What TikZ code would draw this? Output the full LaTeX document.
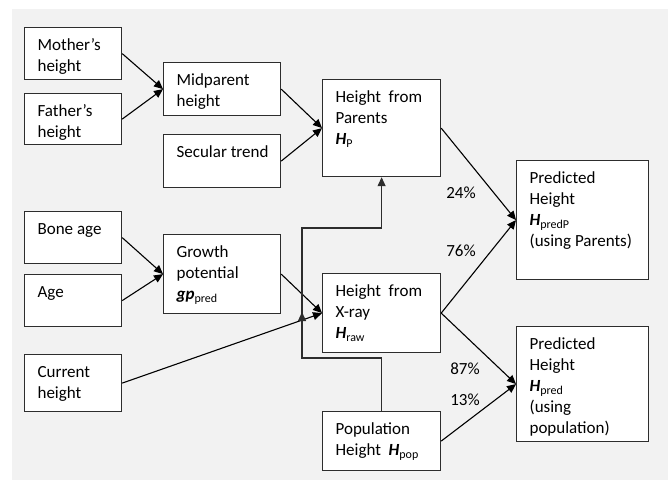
\documentclass[tikz,border=0pt]{standalone}
\usepackage{fontspec}
\setmainfont{Carlito}
\usetikzlibrary{arrows.meta}
\definecolor{paper}{RGB}{242,242,242}
\definecolor{edge}{RGB}{45,45,45}
\newcommand{\bH}{\textbf{\textit{H}}}
\newcommand{\idx}[1]{\raisebox{-3pt}{\fontsize{12}{12}\selectfont #1}}
\newcommand{\boxtext}[3]{\parbox[t][\dimexpr#2pt-16pt\relax][t]{\dimexpr#1pt-26pt\relax}{\raggedright\strut #3}}
\tikzset{
  >={Triangle[length=9pt,width=8pt]},
  box/.style={draw=edge,fill=white,line width=1.2pt,anchor=north west,
    inner xsep=13pt,inner ysep=8pt,font=\fontsize{17}{21}\selectfont},
  flow/.style={->,line width=1.1pt,draw=black},
  tag/.style={font=\fontsize{17}{21}\selectfont,inner sep=0pt},
}

\begin{document}
\begin{tikzpicture}[x=1pt,y=-1pt]
  \useasboundingbox (0,0) rectangle (668,480);
  \fill[paper] (12,9) rectangle (668,480);
  % inputs
  \node[box] (mother) at (24,27) {\boxtext{97}{52}{Mother’s\\height}};
  \node[box] (father) at (24,93) {\boxtext{97}{51}{Father’s\\height}};
  \node[box] (bone) at (24,211) {\boxtext{97}{52}{Bone~age}};
  \node[box] (age) at (24,274) {\boxtext{97}{52}{Age}};
  \node[box] (current) at (24,354) {\boxtext{97}{57}{Current\\height}};
  % middle column
  \node[box] (mid) at (163,62) {\boxtext{117}{53}{Midparent\\height}};
  \node[box] (secular) at (163,134) {\boxtext{117}{53}{\mbox{Secular trend}}};
  \node[box] (growth) at (163,234) {\boxtext{117}{79}{Growth\\potential\\\textbf{\textit{gp}}\idx{pred}}};
  % estimates
  \node[box] (hp) at (322,79) {\boxtext{118}{97}{Height~~from\\Parents\\\bH\idx{P}}};
  \node[box] (hraw) at (322,273) {\boxtext{118}{79}{Height~~from\\X-ray\\\bH\idx{raw}}};
  \node[box] (pop) at (322,411) {\boxtext{118}{59}{Population\\Height~~\bH\idx{pop}}};
  % predictions
  \node[box] (predp) at (516,160) {\boxtext{132}{119}{Predicted\\Height\\\bH\idx{predP}\\\mbox{(using Parents)}}};
  \node[box] (pred) at (516,326) {\boxtext{132}{115}{Predicted\\Height\\\bH\idx{pred}\\(using\\population)}};

  \draw[flow] (mother.east) -- (mid.west);
  \draw[flow] (father.east) -- (mid.west);
  \draw[flow] (mid.east) -- (hp.west);
  \draw[flow] (secular.east) -- (hp.west);
  \draw[flow] (bone.east) -- (growth.west);
  \draw[flow] (age.east) -- (growth.west);
  \draw[flow] (growth.east) -- (hraw.west);
  \draw[flow] (current.east) -- (hraw.west);
  \draw[flow] (hp.east) -- (predp.west);
  \draw[flow] (hraw.east) -- (predp.west);
  \draw[flow] (hraw.east) -- (pred.west);
  \draw[flow] (pop.east) -- (pred.west);

  % population loop up to H_P
  \coordinate (loopdown) at (302,358);
  \coordinate (loopmark) at (302,312);
  \coordinate (loopup) at (302,228);
  \draw[flow,draw=edge] (pop.north) |- (loopdown) -- (loopup) -| (hp.south);
  \draw[flow,draw=edge] (loopdown) -- (loopmark);

  \node[tag] (w24) at (461,193) {24\%};
  \node[tag] (w76) at (461,251) {76\%};
  \node[tag] (w87) at (465,369) {87\%};
  \node[tag] (w13) at (465,400) {13\%};
\end{tikzpicture}
\end{document}
